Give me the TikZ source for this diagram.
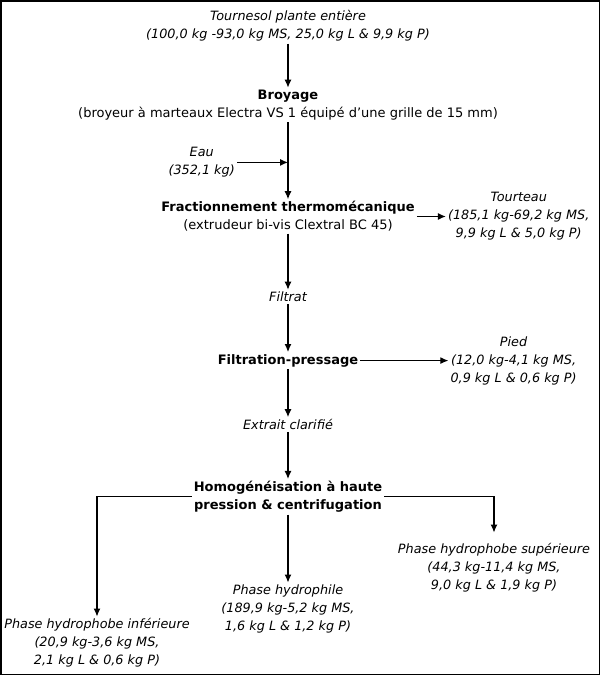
\documentclass[tikz,border=0pt]{standalone}
\usepackage{fontspec}
\setmainfont{DejaVu Sans}
\usetikzlibrary{arrows.meta,positioning}

\begin{document}
\begin{tikzpicture}[
x=1pt, y=1pt,
node distance=40pt and 25pt,
mat/.style={align=center, inner sep=2pt, font=\fontsize{12.8}{18}\selectfont\itshape},
proc/.style={align=center, inner sep=2pt, font=\fontsize{13}{18}\selectfont},
arrow/.style={-{Latex[length=8pt,width=7pt]}, line width=1.2pt}
]
\useasboundingbox (0,0) rectangle (600,-675);
\draw[line width=1.5pt] (0.75,-0.75) rectangle (599.25,-674.25);

\node[mat] (src) at (288,-26) {Tournesol plante entière\\(100,0 kg -93,0 kg MS, 25,0 kg L \& 9,9 kg P)};
\node[proc, below=44pt of src] (broy) {\textbf{Broyage}\\(broyeur à marteaux Electra VS 1 équipé d'une grille de 15 mm)};
\node[mat, below left=23pt and 51pt of broy.south] (eau) {Eau\\(352,1 kg)};
\node[proc, below=77pt of broy] (frac) {\textbf{Fractionnement thermomécanique}\\(extrudeur bi-vis Clextral BC 45)};
\node[mat, right=29pt of frac] (tourt) {Tourteau\\(185,1 kg-69,2 kg MS,\\9,9 kg L \& 5,0 kg P)};
\node[mat, below=56pt of frac] (filtrat) {Filtrat};
\node[proc, below=48pt of filtrat] (filt) {\textbf{Filtration-pressage}};
\node[mat, right=88pt of filt] (pied) {Pied\\(12,0 kg-4,1 kg MS,\\0,9 kg L \& 0,6 kg P)};
\node[mat, below=48pt of filt] (extr) {Extrait clarifié};
\node[proc, below=47pt of extr] (homog) {\textbf{Homogénéisation à haute}\\\textbf{pression \& centrifugation}};
\node[mat, below=27pt of homog, xshift=206pt] (sup) {Phase hydrophobe supérieure\\(44,3 kg-11,4 kg MS,\\9,0 kg L \& 1,9 kg P)};
\node[mat, below=68pt of homog] (phil) {Phase hydrophile\\(189,9 kg-5,2 kg MS,\\1,6 kg L \& 1,2 kg P)};
\node[mat, below=102pt of homog, xshift=-191pt] (inf) {Phase hydrophobe inférieure\\(20,9 kg-3,6 kg MS,\\2,1 kg L \& 0,6 kg P)};

\draw[arrow] (src) -- (broy);
\draw[arrow] (broy) -- (frac);
\draw[arrow] (eau.east) -- (eau.east -| frac.north);
\draw[arrow] (frac.east) -- (frac.east -| tourt.west);
\draw[arrow] (frac) -- (filtrat);
\draw[arrow] (filtrat) -- (filt);
\draw[arrow] (filt.east) -- (pied.west);
\draw[arrow] (filt) -- (extr);
\draw[arrow] (extr) -- (homog);
\draw[arrow, shorten >=9pt] (homog.east) -| (sup.north);
\draw[arrow] (homog) -- (phil);
\draw[arrow] (homog.west) -| (inf.north);
\end{tikzpicture}
\end{document}
